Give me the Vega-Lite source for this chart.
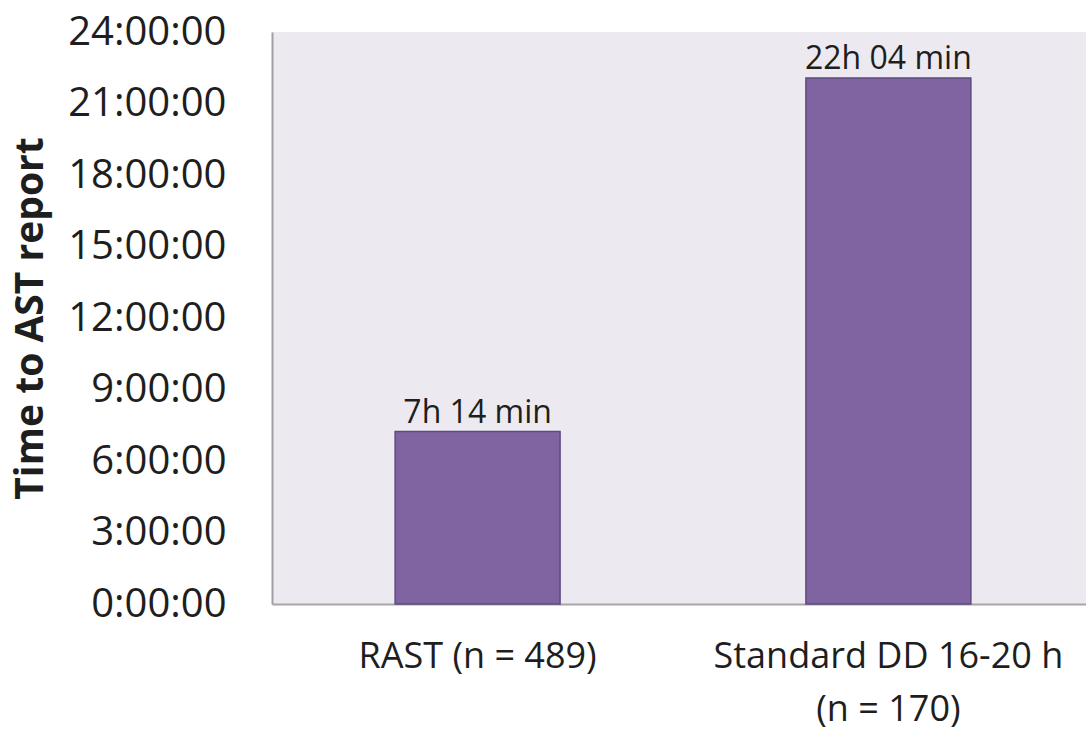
{
  "$schema": "https://vega.github.io/schema/vega-lite/v6.json",
  "autosize": {"type": "none"},
  "width": 814,
  "height": 572,
  "padding": {"left": 272, "top": 32, "right": 0, "bottom": 129},
  "background": "white",
  "config": {
    "view": {"fill": "#ECEAF0", "stroke": null},
    "font": "Open Sans"
  },
  "data": {
    "values": [
      {"group": "RAST (n = 489)", "hours": 7.2333, "label": "7h 14 min"},
      {"group": "Standard DD 16-20 h (n = 170)", "hours": 22.0667, "label": "22h 04 min"}
    ]
  },
  "encoding": {
    "x": {
      "field": "group",
      "type": "nominal",
      "sort": null,
      "scale": {"paddingInner": 0.5985, "paddingOuter": 0.29, "align": 0.5168},
      "axis": {
        "title": null,
        "labelAngle": 0,
        "labelFont": "Open Sans",
        "labelFontSize": 36,
        "labelColor": "#1e1e1e",
        "labelPadding": 35,
        "labelLineHeight": 53,
        "labelLimit": 500,
        "labelExpr": "datum.value == 'Standard DD 16-20 h (n = 170)' ? ['Standard DD 16-20 h', '(n = 170)'] : datum.value",
        "ticks": false,
        "domainColor": "#a6a6a6",
        "domainWidth": 2
      }
    },
    "y": {
      "field": "hours",
      "type": "quantitative",
      "scale": {"domain": [0, 24], "nice": false},
      "axis": {
        "title": "Time to AST report",
        "titleFont": "Open Sans",
        "titleFontSize": 39,
        "titleFontWeight": "bold",
        "titleColor": "#1e1e1e",
        "titlePadding": 22,
        "values": [0, 3, 6, 9, 12, 15, 18, 21, 24],
        "labelExpr": "datum.value + ':00:00'",
        "labelFont": "Open Sans",
        "labelFontSize": 40,
        "labelColor": "#1e1e1e",
        "labelPadding": 46,
        "ticks": false,
        "grid": false,
        "domainColor": "#a0a0a0",
        "domainWidth": 2
      }
    }
  },
  "layer": [
    {
      "mark": {"type": "bar", "color": "#8064A2", "stroke": "#5E4A80", "strokeWidth": 1.5}
    },
    {
      "mark": {"type": "text", "baseline": "alphabetic", "dy": -9, "fontSize": 32, "font": "Open Sans", "color": "#1e1e1e"},
      "encoding": {"text": {"field": "label"}}
    }
  ]
}
